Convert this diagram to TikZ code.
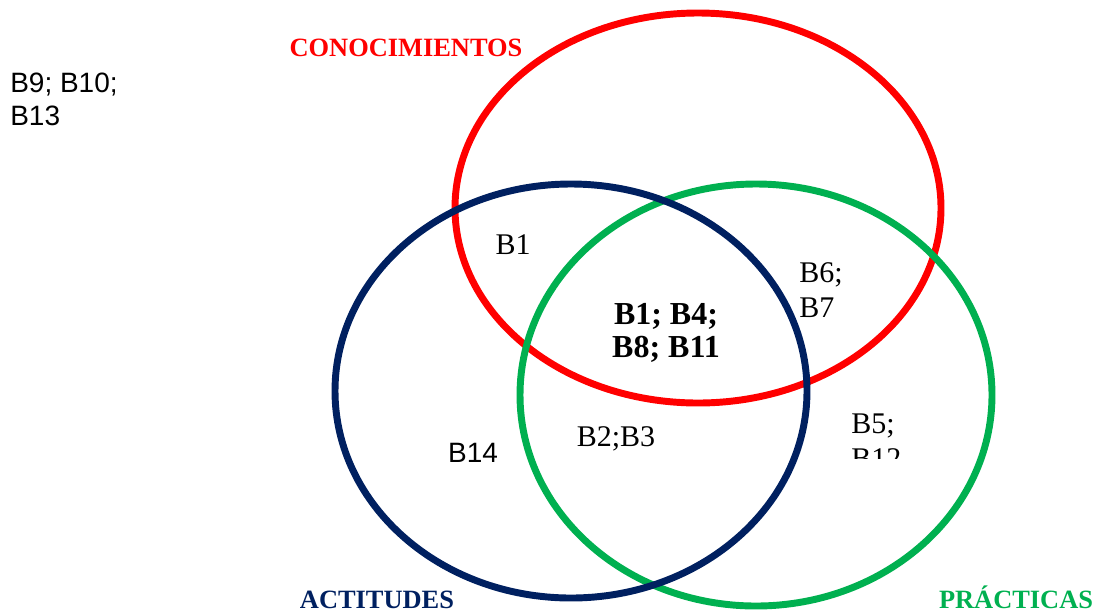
\documentclass[tikz,border=0pt]{standalone}
\usepackage{fontspec}
\setmainfont{Liberation Serif}
\newfontfamily\arialfont{Liberation Sans}
\usetikzlibrary{positioning}
\definecolor{conred}{HTML}{FF0000}
\definecolor{actblue}{HTML}{002060}
\definecolor{pracgreen}{HTML}{00B050}
\tikzset{set/.style={line width=5.2pt},
         serif/.style={inner sep=0pt, align=left, font=\fontsize{22.5}{26}\selectfont},
         sans/.style={inner sep=0pt, align=left, font=\arialfont\fontsize{21}{24.8}\selectfont},
         title/.style={inner sep=0pt, anchor=base, font=\bfseries\fontsize{19.8}{23}\selectfont}}
\begin{document}
\begin{tikzpicture}[x=0.75pt, y=-0.75pt]
            \useasboundingbox (0,0) rectangle (1098,612);
            % the three sets
            \draw[set, conred] (698,208) ellipse [x radius=243, y radius=195];
            \draw[set, pracgreen] (756,395) ellipse [x radius=236, y radius=211];
            \draw[set, actblue] (571,391) ellipse [x radius=236, y radius=207];
            % set names
            \node[title, text=conred] (con) at (406,56) {CONOCIMIENTOS};
            \node[title, text=actblue] (act) at (377,608) {ACTITUDES};
            \node[title, text=pracgreen] (prac) at (1016,608) {PRÁCTICAS};
            % members
            \node[sans, anchor=west] (out) at (10,99.5) {B9; B10;\\B13};
            \node[serif] (ca) at (513,245) {B1};
            \node[serif, anchor=west] (cp) at (799,290) {B6;\\B7};
            \node[serif, align=center, font=\bfseries\fontsize{24}{25}\selectfont] (all) at (666,333) {B1; B4;\\B8; B11};
            \node[sans] (a) at (473,453) {B14};
            \node[serif] (ap) at (616,439) {B2;B3};
            \begin{scope}
              \clip (820,395) rectangle (960,458);
              \node[serif, anchor=west] (p) at (851,441.5) {B5;\\B12};
            \end{scope}
        \end{tikzpicture}
\end{document}
